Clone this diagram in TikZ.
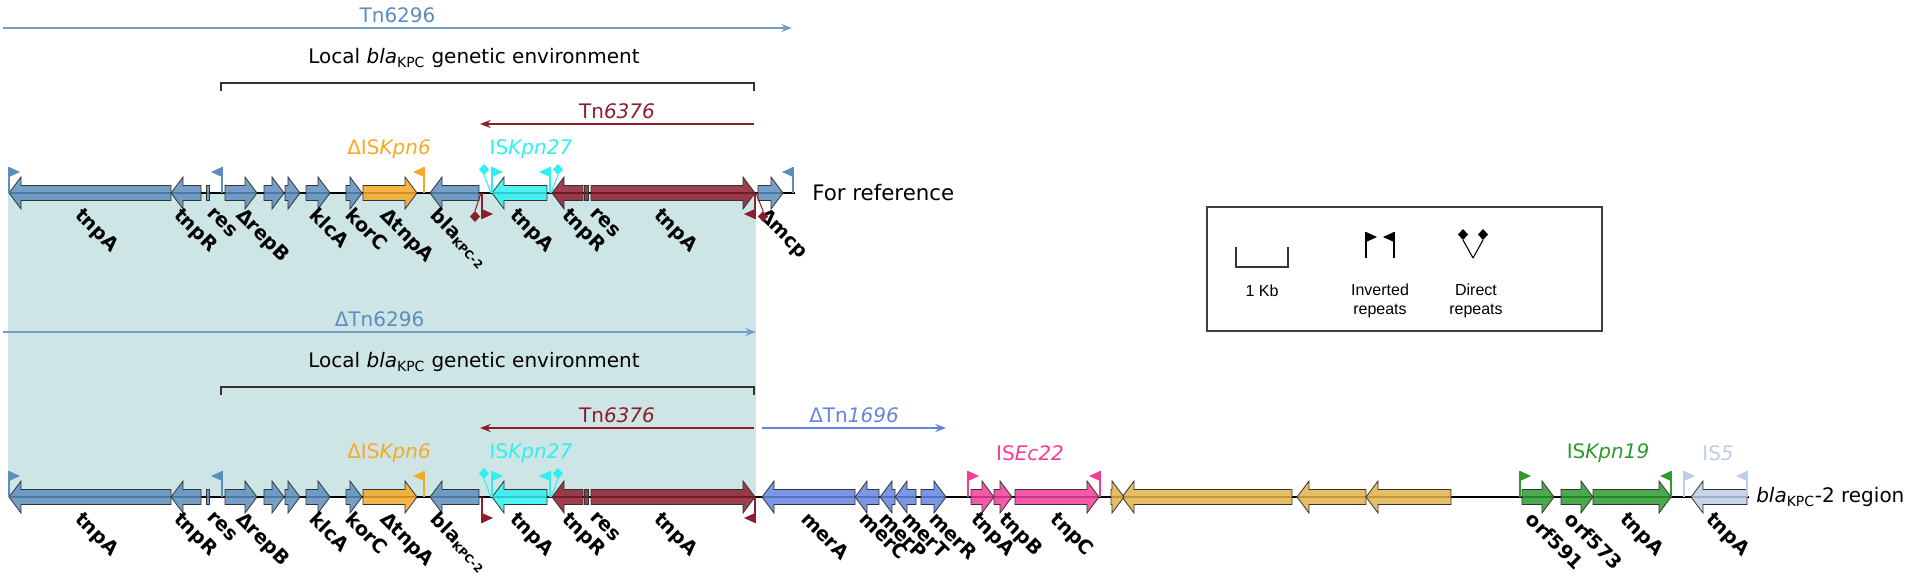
\documentclass[tikz,border=0pt]{standalone}
\usepackage{fontspec}
\setmainfont{DejaVu Sans}
\newfontfamily\legendfont{Liberation Sans}
\usetikzlibrary{arrows.meta,positioning}

\definecolor{tnblue}{HTML}{5E8EBE}
\definecolor{tnbluelbl}{HTML}{5B8DC0}
\definecolor{tnred}{HTML}{8C1D2D}
\definecolor{kpnorange}{HTML}{F7A827}
\definecolor{kpncyan}{HTML}{2EF0F0}
\definecolor{merblue}{HTML}{6384E0}
\definecolor{ecpink}{HTML}{F03C96}
\definecolor{hypyellow}{HTML}{E2B24A}
\definecolor{kpngreen}{HTML}{2E9A2E}
\definecolor{isgrey}{HTML}{BCCDE5}
\definecolor{shadeteal}{HTML}{CDE6E5}

\tikzstyle{gene} = [draw=black!80, line width=0.6pt, fill opacity=0.85]
\tikzstyle{span} = [line width=1.3pt, -{Stealth[length=8pt,width=6pt]}]
\tikzstyle{elabel} = [font=\fontsize{15}{18}\selectfont, inner sep=2pt]
\tikzstyle{rowlabel} = [font=\fontsize{16}{19}\selectfont, anchor=west, inner sep=0pt]
\tikzstyle{glabel} = [font=\bfseries\fontsize{14.5}{16}\selectfont, rotate=-45, anchor=north west, inner sep=0pt]
\tikzstyle{backbone} = [line width=1.5pt]
\newcommand{\blasub}{bla\raisebox{-0.3ex}{\fontsize{8.5}{9}\selectfont KPC-2}}

% gene arrow: x start, x end, row, colour, direction (1 right, -1 left)
\newcommand{\gene}[5]{%
  \pgfmathsetmacro{\hl}{min(12,#2-#1)}%
  \ifnum#5>0
    \path[gene, fill=#4] ({#1},{#3-7.5}) -- ({#2-\hl},{#3-7.5}) -- ({#2-\hl},{#3-16}) -- ({#2},{#3})
      -- ({#2-\hl},{#3+16}) -- ({#2-\hl},{#3+7.5}) -- ({#1},{#3+7.5}) -- cycle;
  \else
    \path[gene, fill=#4] ({#2},{#3-7.5}) -- ({#1+\hl},{#3-7.5}) -- ({#1+\hl},{#3-16}) -- ({#1},{#3})
      -- ({#1+\hl},{#3+16}) -- ({#1+\hl},{#3+7.5}) -- ({#2},{#3+7.5}) -- cycle;
  \fi}
% inverted repeat flag: pole x, row, colour, flag direction, side (-1 above, 1 below)
\newcommand{\irflag}[5]{%
  \draw[#3, line width=0.8pt] ({#1},{#2}) -- ({#1},{#2+(#5)*26});
  \fill[#3] ({#1},{#2+(#5)*26}) -- ({#1+(#4)*11},{#2+(#5)*21}) -- ({#1},{#2+(#5)*16}) -- cycle;}
% direct repeat diamond: base x, diamond x, row, colour, side
\newcommand{\drmark}[5]{%
  \draw[#4, line width=0.8pt] ({#1},{#3}) -- ({#2},{#3+(#5)*18});
  \fill[#4] ({#2},{#3+(#5)*18}) -- ({#2+5},{#3+(#5)*23.5}) -- ({#2},{#3+(#5)*29}) -- ({#2-5},{#3+(#5)*23.5}) -- cycle;}

\begin{document}
\begin{tikzpicture}[x=0.75pt, y=-0.75pt]
\useasboundingbox (0,0) rectangle (1906,577);

% shared region
\fill[shadeteal] (8,193) rectangle (756,497);

% Tn6296 and local environment, reference
\coordinate (tn6296a) at (3,28);
\coordinate (tn6296b) at (792,28);
\draw[span, tnbluelbl!85] (tn6296a) -- (tn6296b) node[midway, above=1pt, elabel, text=tnbluelbl] (tn6296lbl) {Tn6296};
\coordinate (envua) at (221,83);
\coordinate (envub) at (754,83);
\draw[line width=0.9pt, black!80] (envua) ++(0,8) -- (envua) -- (envub) -- ++(0,8);
\node[elabel] (envulbl) at (474,58) {Local \textit{bla}\textsubscript{KPC} genetic environment};
\coordinate (tn6376ua) at (754,124);
\coordinate (tn6376ub) at (480,124);
\draw[span, tnred] (tn6376ua) -- (tn6376ub) node[midway, above=1pt, elabel, text=tnred] (tn6376ulbl) {Tn\textit{6376}};

% delta Tn6296 and local environment, blaKPC-2 region
\coordinate (dtn6296a) at (3,332);
\coordinate (dtn6296b) at (756,332);
\draw[span, tnbluelbl!85] (dtn6296a) -- (dtn6296b) node[midway, above=1pt, elabel, text=tnbluelbl] (dtn6296lbl) {ΔTn6296};
\coordinate (envla) at (221,387);
\coordinate (envlb) at (754,387);
\draw[line width=0.9pt, black!80] (envla) ++(0,8) -- (envla) -- (envlb) -- ++(0,8);
\node[elabel] (envllbl) at (474,362) {Local \textit{bla}\textsubscript{KPC} genetic environment};
\coordinate (tn6376la) at (754,428);
\coordinate (tn6376lb) at (480,428);
\draw[span, tnred] (tn6376la) -- (tn6376lb) node[midway, above=1pt, elabel, text=tnred] (tn6376llbl) {Tn\textit{6376}};
\coordinate (tn1696a) at (762,428);
\coordinate (tn1696b) at (946,428);
\draw[span, merblue] (tn1696a) -- (tn1696b) node[midway, above=1pt, elabel, text=merblue] (tn1696lbl) {ΔTn\textit{1696}};

% backbones
\draw[backbone] (9,193) -- (795,193);
\draw[backbone] (9,497) -- (1749,497);

% genes common to both rows
\foreach \r in {193,497} {
  \foreach \a/\b/\c/\d in {9/171/tnblue/-1, 171/201/tnblue/-1, 225/257/tnblue/1, 264/284/tnblue/1,
      285/300/tnblue/1, 306/330/tnblue/1, 346/362/tnblue/1, 363/417/kpnorange/1, 430/479/tnblue/-1,
      492/547/kpncyan/-1, 552/583/tnred/-1, 591/755/tnred/1}
    \gene{\a}{\b}{\r}{\c}{\d};
  \path[gene, fill=tnblue] (206,\r-7.5) rectangle (209,\r+7.5);
  \path[gene, fill=tnred] (584,\r-7.5) rectangle (588,\r+7.5);
  \foreach \x/\t [count=\i] in {84/tnpA, 183/tnpR, 214/res, 245/ΔrepB, 319/klcA, 355/korC, 389/ΔtnpA,
      440/\blasub, 519/tnpA, 571/tnpR, 597/res, 663/tnpA}
    \node[glabel] (g\r-\i) at (\x,\r+13) {\t};
  \irflag{9}{\r}{tnbluelbl}{1}{-1}
  \irflag{222}{\r}{tnbluelbl}{-1}{-1}
  \irflag{424}{\r}{kpnorange}{-1}{-1}
  \drmark{491}{484}{\r}{kpncyan}{-1}
  \irflag{492}{\r}{kpncyan}{1}{-1}
  \irflag{550}{\r}{kpncyan}{-1}{-1}
  \drmark{551}{558}{\r}{kpncyan}{-1}
  \irflag{482}{\r}{tnred}{1}{1}
  \irflag{755}{\r}{tnred}{-1}{1}
}

% reference only
\gene{758}{783}{193}{tnblue}{1}
\node[glabel] (gmcp) at (768,206) {Δmcp};
\drmark{481}{475}{193}{tnred}{1}
\drmark{756}{763}{193}{tnred}{1}
\irflag{793}{193}{tnbluelbl}{-1}{-1}
\node[rowlabel] (forref) at (812,193) {For reference};

% blaKPC-2 region only
\foreach \a/\b/\c/\d in {762/855/merblue/-1, 855/879/merblue/-1, 880/895/merblue/-1, 895/916/merblue/-1,
    921/946/merblue/1, 971/994/ecpink/1, 994/1012/ecpink/1, 1015/1099/ecpink/1,
    1122/1292/hypyellow/-1, 1111/1124/hypyellow/1, 1297/1366/hypyellow/-1, 1366/1451/hypyellow/-1,
    1522/1554/kpngreen/1, 1561/1593/kpngreen/1, 1593/1671/kpngreen/1, 1691/1747/isgrey/-1}
  \gene{\a}{\b}{497}{\c}{\d};
\foreach \x/\t [count=\i] in {810/merA, 869/merC, 888/merP, 911/merT, 938/merR, 980/tnpA, 1008/tnpB,
    1060/tnpC, 1535/orf591, 1574/orf573, 1629/tnpA, 1715/tnpA}
  \node[glabel] (h\i) at (\x,510) {\t};
\irflag{968}{497}{ecpink}{1}{-1}
\irflag{1100}{497}{ecpink}{-1}{-1}
\irflag{1520}{497}{kpngreen}{1}{-1}
\irflag{1671}{497}{kpngreen}{-1}{-1}
\irflag{1684}{497}{isgrey}{1}{-1}
\irflag{1747}{497}{isgrey}{-1}{-1}
\node[rowlabel, font=\fontsize{15}{18}\selectfont] (regionlbl) at (1756,497) {\textit{bla}\textsubscript{KPC}-2 region};

% element labels
\node[elabel, text=kpnorange] (kpn6u) at (389,149) {ΔIS\textit{Kpn6}};
\node[elabel, text=kpncyan] (kpn27u) at (531,149) {IS\textit{Kpn27}};
\node[elabel, text=kpnorange] (kpn6l) at (389,453) {ΔIS\textit{Kpn6}};
\node[elabel, text=kpncyan] (kpn27l) at (531,453) {IS\textit{Kpn27}};
\node[elabel, text=ecpink] (ec22) at (1030,453) {IS\textit{Ec22}};
\node[elabel, text=kpngreen] (kpn19) at (1608,453) {IS\textit{Kpn19}};
\node[elabel, text=isgrey] (is5) at (1718,453) {IS\textit{5}};

% legend
\draw[black!75, line width=0.8pt] (1207,207) rectangle (1602,331);
\draw[line width=1pt, black!80] (1236,247) -- (1236,267) -- (1288,267) -- (1288,247);
\node[font=\legendfont\fontsize{12}{14}\selectfont] (kb) at (1262,291) {1 Kb};
\irflag{1366}{258}{black}{1}{-1}
\irflag{1394}{258}{black}{-1}{-1}
\node[font=\legendfont\fontsize{12}{14}\selectfont, align=center] (irlbl) at (1380,301) {Inverted\\repeats};
\drmark{1473}{1463}{258}{black}{-1}
\drmark{1473}{1483}{258}{black}{-1}
\node[font=\legendfont\fontsize{12}{14}\selectfont, align=center] (drlbl) at (1476,301) {Direct\\repeats};
\end{tikzpicture}
\end{document}
